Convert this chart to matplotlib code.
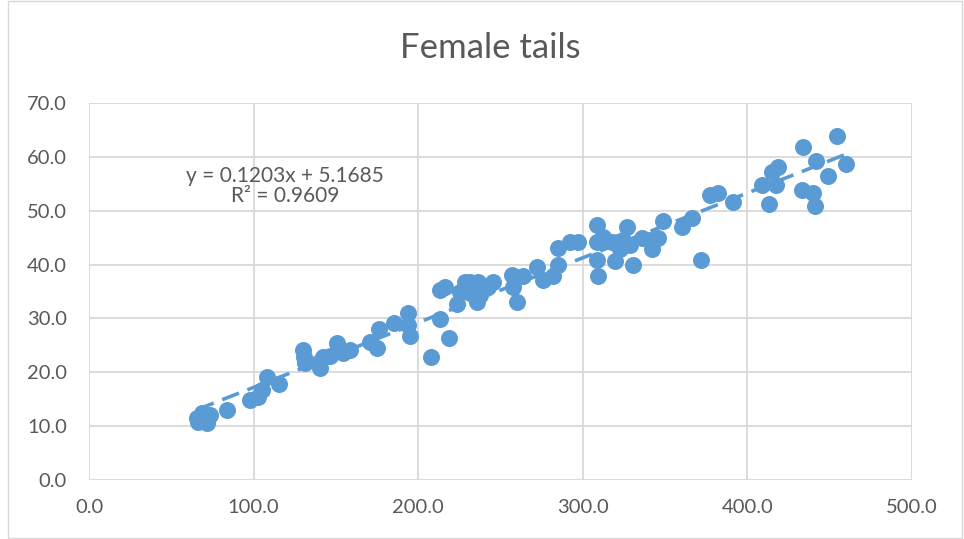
import matplotlib
matplotlib.use("Agg")
import matplotlib.pyplot as plt
from matplotlib.patches import Rectangle

# tail data (body length vs tail length)
length = [66.2, 71.7, 68.7, 73.5, 65.6, 83.8, 97.8, 102.7, 105.1, 108.1,
          115.4, 130.0, 131.2, 130.6, 140.3, 142.2, 139.1, 150.7, 154.3, 158.6,
          151.3, 146.4, 170.7, 175.0, 176.2, 185.3, 193.8, 195.0, 193.8, 207.8,
          213.2, 213.2, 216.3, 218.7, 223.6, 225.4, 228.4, 231.5, 235.7, 236.3,
          237.5, 245.4, 231.5, 242.4, 233.9, 257.0, 257.6, 260.0, 263.7, 272.2,
          275.8, 281.9, 284.9, 284.9, 292.2, 297.1, 308.6, 309.2, 308.6, 308.6,
          312.3, 319.6, 321.4, 326.9, 330.5, 328.7, 336.0, 342.0, 345.7, 348.7,
          313.5, 317.7, 324.4, 340.8, 322.6, 360.3, 366.3, 371.8, 377.3, 382.1,
          391.3, 408.9, 413.1, 414.9, 418.6, 417.4, 433.8, 433.2, 439.9, 441.1,
          441.7, 449.0, 454.4, 459.9]
tail = [10.8, 10.6, 12.5, 12.1, 11.5, 13.0, 14.9, 15.4, 16.7, 19.2,
        17.9, 24.2, 21.8, 22.9, 20.8, 22.9, 21.8, 25.5, 23.6, 24.2,
        24.2, 23.1, 25.7, 24.6, 28.1, 29.2, 31.1, 26.8, 28.8, 22.9,
        29.9, 35.2, 35.9, 26.4, 32.6, 35.0, 36.8, 34.8, 33.1, 36.8,
        34.4, 36.8, 36.8, 35.9, 35.3, 38.1, 35.9, 33.1, 37.8, 39.6,
        37.2, 37.8, 40.0, 43.0, 44.1, 44.1, 47.4, 37.8, 40.9, 44.1,
        45.2, 40.6, 44.1, 46.9, 40.0, 43.7, 45.0, 42.8, 45.0, 48.0,
        44.6, 44.1, 44.6, 44.6, 42.8, 46.9, 48.7, 40.9, 53.0, 53.2,
        51.7, 54.7, 51.3, 57.1, 58.2, 54.7, 61.9, 53.9, 53.2, 50.8,
        59.2, 56.4, 63.8, 58.6]

slope = 0.1203
intercept = 5.1685
eq_text = "y = 0.1203x + 5.1685\nR² = 0.9609"

blue = "#5B9BD5"
grey_text = "#595959"

plt.rcParams['font.family'] = ['Lato', 'DejaVu Sans']

fig = plt.figure(figsize=(9.64, 5.39), dpi=100)
ax = fig.add_axes([89 / 964, 1 - 480 / 539, (912 - 89) / 964, (480 - 103) / 539])

# scatter points
ax.scatter(length, tail, s=150, color=blue, zorder=3, linewidths=0)

# linear trendline over the data range
xs = [min(length), max(length)]
ys = [slope * v + intercept for v in xs]
ax.plot(xs, ys, color=blue, linewidth=2.6, dashes=(5, 2.5), zorder=4)

ax.text(119, 54.6, eq_text, ha='center', va='center', fontsize=15,
        color=grey_text, linespacing=1.05, zorder=5)

ax.set_xlim(0, 500)
ax.set_ylim(0, 70)
ax.set_xticks(range(0, 501, 100))
ax.set_yticks(range(0, 71, 10))
ax.set_xticklabels(["%.1f" % v for v in range(0, 501, 100)])
ax.set_yticklabels(["%.1f" % v for v in range(0, 71, 10)])
ax.tick_params(length=0, labelsize=14.5, colors=grey_text)
ax.tick_params(axis='x', pad=14)
ax.tick_params(axis='y', pad=16)
ax.grid(True, color="#D9D9D9", linewidth=1.3)
ax.set_axisbelow(True)
for s in ax.spines.values():
    s.set_visible(False)

fig.text(490 / 964, 1 - 48 / 539, "Female tails", ha='center', va='center',
         fontsize=25, color=grey_text)

# chart border
fig.patches.append(Rectangle((8 / 964, 0.002), 954 / 964, 0.996, transform=fig.transFigure,
                             fill=False, edgecolor="#D9D9D9", linewidth=1))

fig.savefig("out.png", dpi=100)
